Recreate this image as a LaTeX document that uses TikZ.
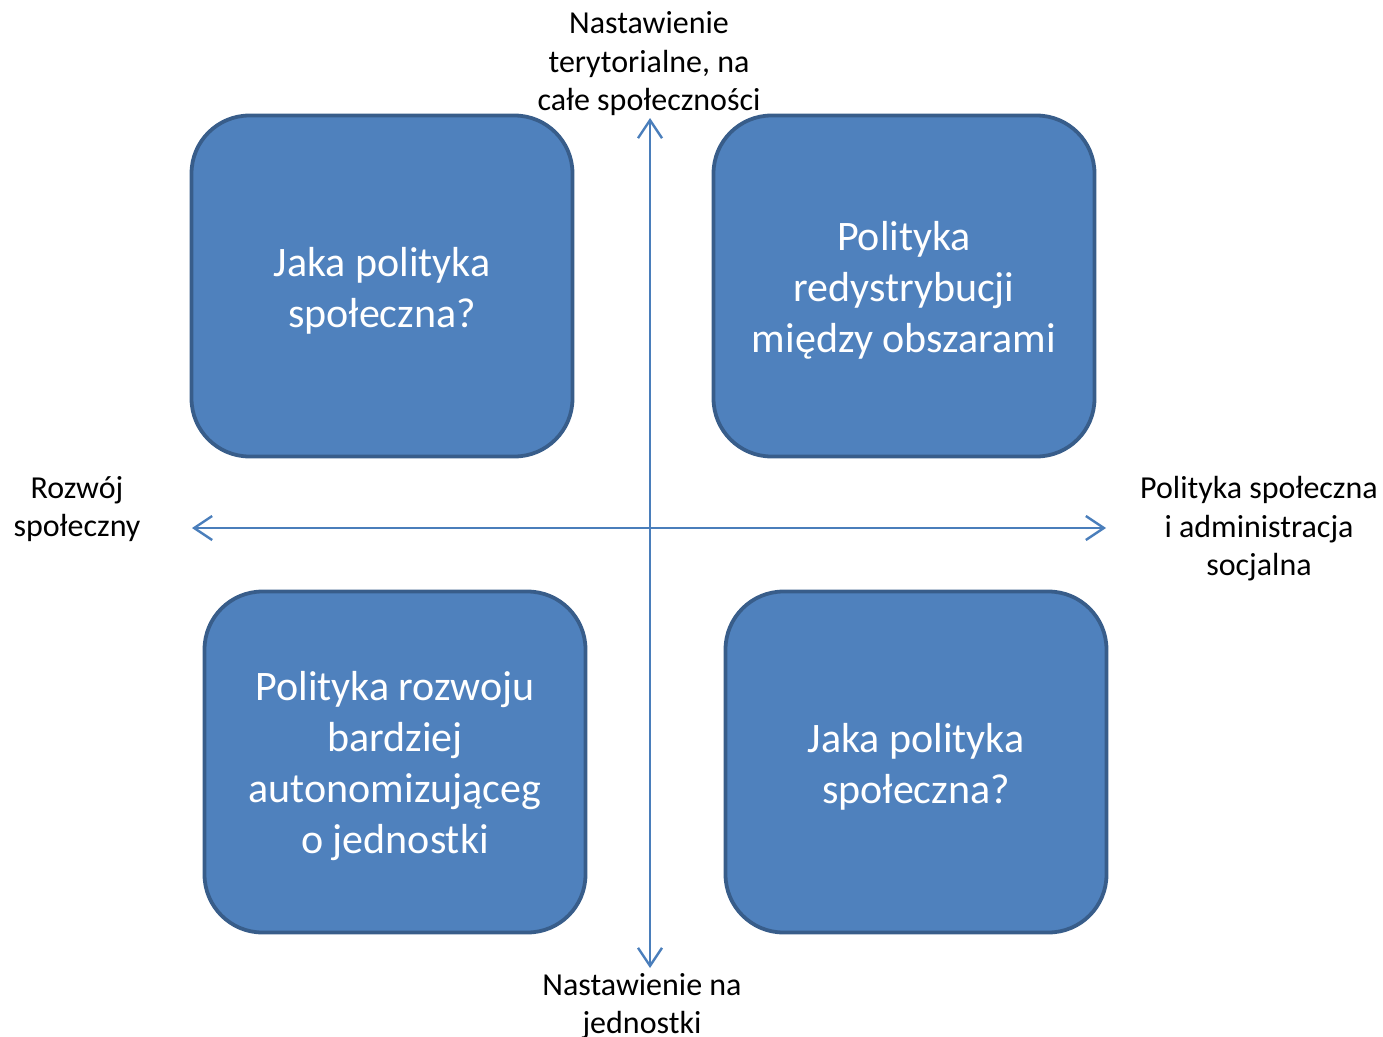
\documentclass[tikz,border=0pt]{standalone}
\usepackage{fontspec}
\setmainfont{Carlito}
\usetikzlibrary{arrows.meta}
\definecolor{boxfill}{HTML}{4F81BD}
\definecolor{boxline}{HTML}{385D8A}
\definecolor{axiscol}{HTML}{4A7EBB}
\tikzset{
  quadbox/.style={draw=boxline, fill=boxfill, line width=3.8pt, rounded corners=58pt,
    minimum width=381pt, minimum height=341pt, inner sep=0pt},
  boxtext/.style={text=white, align=center, inner sep=0pt, font=\fontsize{42}{51}\selectfont},
  axislabel/.style={align=center, text=black, inner sep=0pt, font=\fontsize{32}{38.5}\selectfont},
  axisline/.style={draw=axiscol, line width=2.4pt,
    {Straight Barb[length=18pt,width=24pt,line width=2.4pt]}-{Straight Barb[length=18pt,width=24pt,line width=2.4pt]}}
}
\begin{document}
\begin{tikzpicture}[x=1pt,y=-1pt]
\useasboundingbox (0,0) rectangle (1383,1036);
\node[quadbox] (tl) at (382,286) {};
\node[quadbox] (tr) at (904,286) {};
\node[quadbox] (bl) at (395,762) {};
\node[quadbox] (br) at (916,762) {};
\node[boxtext] (tlt) at ([yshift=-4.5pt]tl.center) {Jaka polityka\\społeczna?};
\node[boxtext] (trt) at ([yshift=-4.5pt]tr.center) {Polityka\\redystrybucji\\między obszarami};
\node[boxtext] (blt) at ([yshift=-4.5pt]bl.center) {Polityka rozwoju\\bardziej\\autonomizująceg\\o jednostki};
\node[boxtext] (brt) at ([yshift=-4.5pt]br.center) {Jaka polityka\\społeczna?};
\coordinate (vtop) at (650,118);
\coordinate (vbot) at (650,968);
\coordinate (hleft) at (192,528);
\coordinate (hright) at (1106,528);
\draw[axisline] (vbot) -- (vtop);
\draw[axisline] (hleft) -- (hright);
\node[axislabel] (ltop) at (649,64) {Nastawienie\\terytorialne, na\\całe społeczności};
\node[axislabel] (lbot) at (642,1006) {Nastawienie na\\jednostki};
\node[axislabel] (lleft) at (77,509) {Rozwój\\społeczny};
\node[axislabel] (lright) at (1259,529) {Polityka społeczna\\i administracja\\socjalna};
\end{tikzpicture}
\end{document}
